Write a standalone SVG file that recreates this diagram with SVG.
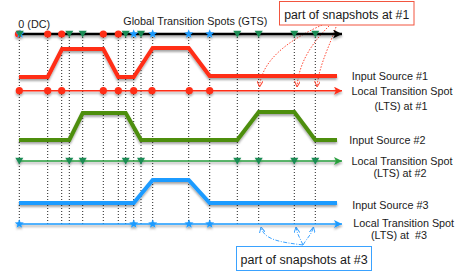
<svg xmlns="http://www.w3.org/2000/svg" xmlns:xlink="http://www.w3.org/1999/xlink" width="471" height="272" viewBox="0 0 471 272">
<style>
.t{font-family:"Liberation Sans",Arial,sans-serif;font-size:10.8px;fill:#1a1a1a}
.tc{font-family:"Liberation Sans",Arial,sans-serif;font-size:12.3px;fill:#1a1a1a}
.vd{stroke:#222;stroke-width:1;stroke-dasharray:1 2;fill:none}
.src{fill:none;stroke-width:4;stroke-linejoin:miter}
.lts{fill:none;stroke-width:1.6}
.red{stroke:#ff2d17}
.grn{stroke:#4d8e0c}
.grn2{stroke:#2a9e3c}
.blu{stroke:#1d9bff}
.cr{fill:none;stroke:#ff4a36;stroke-width:1;stroke-dasharray:1.5 1.5}
.cb{fill:none;stroke:#3aa2ff;stroke-width:1;stroke-dasharray:4 1.5 1 1.5}
</style>
<defs>
<filter id="sh" filterUnits="userSpaceOnUse" x="0" y="0" width="471" height="272">
<feDropShadow dx="0" dy="2" stdDeviation="1.2" flood-color="#000" flood-opacity="0.35"/>
</filter>
<marker id="ahk" viewBox="0 0 10 10" refX="10" refY="5" markerWidth="10" markerHeight="9" markerUnits="userSpaceOnUse" orient="auto"><path d="M0 0 L10 5 L0 10 L2.5 5 Z" fill="#000"/></marker>
<marker id="ahr" viewBox="0 0 10 10" refX="10" refY="5" markerWidth="9" markerHeight="8" markerUnits="userSpaceOnUse" orient="auto"><path d="M0 0 L10 5 L0 10 L2.5 5 Z" fill="#ff2d17"/></marker>
<marker id="ahg" viewBox="0 0 10 10" refX="10" refY="5" markerWidth="9" markerHeight="8" markerUnits="userSpaceOnUse" orient="auto"><path d="M0 0 L10 5 L0 10 L2.5 5 Z" fill="#2a9e3c"/></marker>
<marker id="ahb" viewBox="0 0 10 10" refX="10" refY="5" markerWidth="9" markerHeight="8" markerUnits="userSpaceOnUse" orient="auto"><path d="M0 0 L10 5 L0 10 L2.5 5 Z" fill="#1d9bff"/></marker>
<marker id="vr" viewBox="0 0 6 6" refX="6" refY="3" markerWidth="6" markerHeight="6" markerUnits="userSpaceOnUse" orient="auto"><path d="M0 0 L6 3 L0 6" fill="none" stroke="#ff4a36" stroke-width="1"/></marker>
<marker id="vb" viewBox="0 0 6 6" refX="6" refY="3" markerWidth="6" markerHeight="6" markerUnits="userSpaceOnUse" orient="auto"><path d="M0 0 L6 3 L0 6" fill="none" stroke="#3aa2ff" stroke-width="1"/></marker>
<circle id="dot" r="3.6" fill="#ff2d17"/>
<path id="tri" d="M-4 -3.2 L4 -3.2 L0 3.4 Z" fill="#1a8c55"/>
<path id="star" d="M0 -4.7 L1.19 -1.63 L4.47 -1.45 L1.91 0.63 L2.76 3.8 L0 2 L-2.76 3.8 L-1.91 0.63 L-4.47 -1.45 L-1.19 -1.63 Z" fill="#1d9bff"/>
</defs>
<rect width="471" height="272" fill="#fff"/>

<g id="connectors">
<g id="verticals">
<path class="vd" d="M19.3 34V224M47.7 34V224M61.7 34V224M69.3 34V224M82.7 34V224M103.3 34V224M118.3 34V224M125.7 34V224M133.7 34V224M141 34V224M152.7 34V224M188.7 34V224M209.7 34V224M237.3 34V224M258.7 34V224M294.3 34V224M315.3 34V224"/>
</g>
<g id="snap1-links">
<path class="cr" d="M322 25 C300 35 262 55 259.5 87" marker-end="url(#vr)"/>
<path class="cr" d="M329 26 C315 40 299 60 297 87" marker-end="url(#vr)"/>
<path class="cr" d="M336 27 C330 45 319 65 317 87" marker-end="url(#vr)"/>
</g>
<g id="snap3-links">
<path class="cb" d="M303 245 C280 242 264 240 261 227" marker-end="url(#vb)"/>
<path class="cb" d="M303 245 C300 238 297 234 296 227" marker-end="url(#vb)"/>
<path class="cb" d="M303 245 C307 238 312 234 313.5 227" marker-end="url(#vb)"/>
</g>
</g>

<g id="gts" filter="url(#sh)">
<line x1="19" y1="34" x2="342" y2="34" stroke="#000" stroke-width="2.6" marker-end="url(#ahk)"/>
<use href="#dot" x="18.5" y="34"/>
<use href="#star" x="20" y="34"/>
<use href="#tri" x="19.8" y="34"/>
<use href="#dot" x="47.7" y="34"/><use href="#dot" x="61.7" y="34"/><use href="#dot" x="103.3" y="34"/><use href="#dot" x="118.3" y="34"/>
<use href="#tri" x="69.3" y="34"/><use href="#tri" x="82.7" y="34"/><use href="#tri" x="125.7" y="34"/><use href="#tri" x="141" y="34"/><use href="#tri" x="237.3" y="34"/><use href="#tri" x="258.7" y="34"/><use href="#tri" x="294.3" y="34"/><use href="#tri" x="315.3" y="34"/>
<use href="#star" x="133.7" y="34"/><use href="#star" x="152.7" y="34"/><use href="#star" x="188.7" y="34"/><use href="#star" x="209.7" y="34"/>
</g>

<g id="source1" filter="url(#sh)">
<path class="src red" d="M19 77 L47.7 77 L62 49 L103.3 49 L118.3 77 L133.7 77 L152.7 48 L188.7 48 L209.7 76 L337 76"/>
</g>
<g id="lts1" filter="url(#sh)">
<line class="lts red" x1="19" y1="90.7" x2="342" y2="90.7" marker-end="url(#ahr)"/>
<use href="#dot" x="19.3" y="90.7"/><use href="#dot" x="47.7" y="90.7"/><use href="#dot" x="61.7" y="90.7"/><use href="#dot" x="103.3" y="90.7"/><use href="#dot" x="118.3" y="90.7"/><use href="#dot" x="133.7" y="90.7"/><use href="#dot" x="152" y="90.7"/><use href="#dot" x="189.3" y="90.7"/><use href="#dot" x="209.7" y="90.7"/>
</g>

<g id="source2" filter="url(#sh)">
<path class="src grn" d="M19 140 L69.3 140 L82.7 113 L125.7 113 L141 140 L237.3 140 L258.7 112 L294.3 112 L315.3 140 L337 140"/>
</g>
<g id="lts2" filter="url(#sh)">
<line class="lts grn2" x1="19" y1="161" x2="342" y2="161" marker-end="url(#ahg)"/>
<use href="#tri" x="19.3" y="161"/><use href="#tri" x="69.3" y="161"/><use href="#tri" x="82.7" y="161"/><use href="#tri" x="125.7" y="161"/><use href="#tri" x="141" y="161"/><use href="#tri" x="237.3" y="161"/><use href="#tri" x="258.7" y="161"/><use href="#tri" x="294.3" y="161"/><use href="#tri" x="315.3" y="161"/>
</g>

<g id="source3" filter="url(#sh)">
<path class="src blu" d="M19 203 L133.7 203 L152.7 180 L188.7 180 L209.7 203 L337 203"/>
</g>
<g id="lts3" filter="url(#sh)">
<line class="lts blu" x1="19" y1="224" x2="342" y2="224" marker-end="url(#ahb)"/>
<use href="#star" x="19.3" y="224"/><use href="#star" x="133.7" y="224"/><use href="#star" x="152.7" y="224"/><use href="#star" x="189" y="224"/><use href="#star" x="209.7" y="224"/>
</g>

<g id="labels">
<text class="t" x="18.3" y="27.8">0 (DC)</text>
<text class="t" x="123.3" y="24.5">Global Transition Spots (GTS)</text>
<text class="t" x="351.7" y="79.5">Input Source #1</text>
<text class="t" x="402" y="95.2" text-anchor="middle">Local Transition Spot</text>
<text class="t" x="401" y="109.5" text-anchor="middle">(LTS) at #1</text>
<text class="t" x="349.3" y="144">Input Source #2</text>
<text class="t" x="402" y="165" text-anchor="middle">Local Transition Spot</text>
<text class="t" x="400" y="176.5" text-anchor="middle">(LTS) at #2</text>
<text class="t" x="352.3" y="208.5">Input Source #3</text>
<text class="t" x="403.7" y="227" text-anchor="middle">Local Transition Spot</text>
<text class="t" x="399" y="239" text-anchor="middle" xml:space="preserve">(LTS) at  #3</text>
</g>

<g id="callout1">
<rect x="279.5" y="1.5" width="134.5" height="23.5" fill="#fff" stroke="#f2553f" stroke-width="1"/>
<text class="tc" x="346.7" y="19" text-anchor="middle">part of snapshots at #1</text>
</g>
<g id="callout3">
<rect x="236.5" y="246.5" width="135" height="24" fill="#fff" stroke="#3aa2ff" stroke-width="1"/>
<text class="tc" x="304.2" y="264" text-anchor="middle" style="font-size:12.5px">part of snapshots at #3</text>
</g>
</svg>
